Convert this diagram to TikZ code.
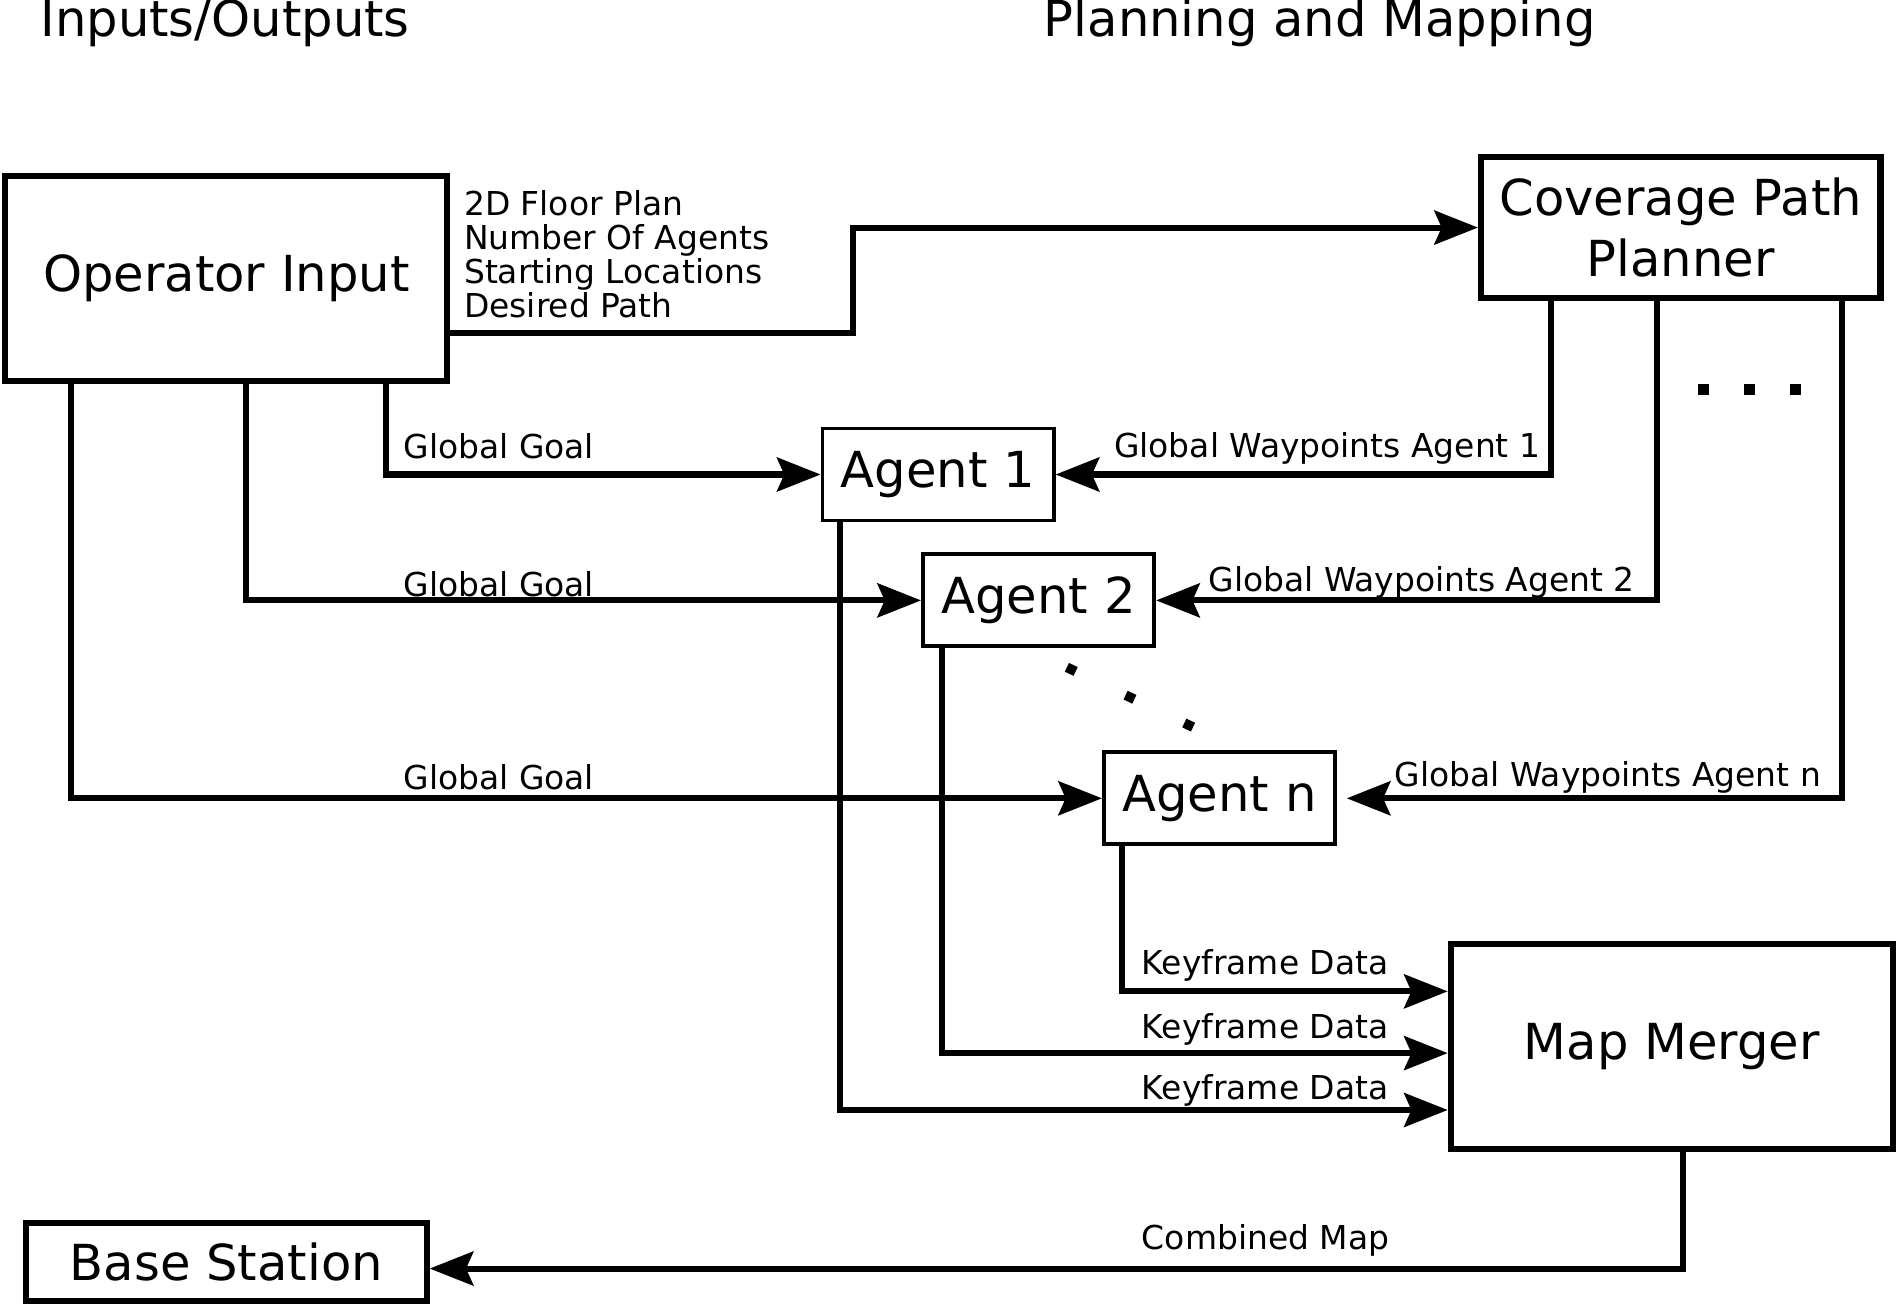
\documentclass[tikz,border=0pt]{standalone}
\usepackage{fontspec}
\setmainfont{DejaVu Sans}
\usetikzlibrary{arrows.meta,positioning}

\begin{document}
\begin{tikzpicture}[x=0.5pt,y=-0.5pt,
  bigbox/.style={draw,line width=2.5pt,inner sep=0pt,align=center,font=\fontsize{20.5}{25.5}\selectfont},
  agentbox/.style={draw,line width=1.6pt,inner sep=0pt,minimum width=95.5pt,minimum height=38pt,font=\fontsize{20.5}{25}\selectfont},
  title/.style={anchor=base west,inner sep=0pt,font=\fontsize{20.5}{25}\selectfont},
  link/.style={line width=2.5pt,-{Stealth[length=18pt,width=14pt,inset=3pt]}},
  lbl/.style={anchor=base west,inner sep=0pt,font=\fontsize{13.6}{14}\selectfont}]

\useasboundingbox (0,0) rectangle (1568,1080);

\node[title] (io) at (33,30) {Inputs/Outputs};
\node[title] (pm) at (862,30) {Planning and Mapping};

\node[bigbox,minimum width=182.5pt,minimum height=84.5pt] (op) at (187,230) {Operator Input};
\node[bigbox,minimum width=165pt,minimum height=58.5pt] (cpp) at (1388.5,188) {Coverage Path\\Planner};
\node[agentbox] (a1) at (775,392) {Agent 1};
\node[agentbox] (a2) at (858,496) {Agent 2};
\node[agentbox] (an) at (1007.5,659.5) {Agent n};
\node[bigbox,minimum width=182.5pt,minimum height=85pt] (mm) at (1381,864.5) {Map Merger};
\node[bigbox,minimum width=165.5pt,minimum height=32pt] (bs) at (187,1042.5) {Base Station};

% operator input to planner and agents
\draw[link] (op.east |- 0,275) -- (705,275) |- (cpp.west);
\draw[link] (op.south -| 319,0) |- (a1.west);
\draw[link] (op.south -| 203,0) |- (a2.west);
\draw[link] (op.south -| 59,0) |- (an.west);

% planner to agents
\draw[link] (cpp.south -| 1281,0) |- (a1.east);
\draw[link] (cpp.south -| 1369,0) |- (a2.east);
\draw[link,shorten >=4pt] (cpp.south -| 1522,0) |- (an.east);

% agents to map merger
\draw[link] (a1.south -| 694,0) |- (mm.west |- 0,917);
\draw[link] (a2.south -| 778,0) |- (mm.west |- 0,870);
\draw[link] (an.south -| 927,0) |- (mm.west |- 0,819);
\draw[link] (mm.south -| 1390,0) |- (bs.east |- 0,1048);

\foreach \t [count=\i] in {2D Floor Plan,Number Of Agents,Starting Locations,Desired Path}
  \node[lbl] (in\i) at (383,150+28*\i) {\t};

\node[lbl] (gg1) at (333,379) {Global Goal};
\node[lbl] (gg2) at (333,493) {Global Goal};
\node[lbl] (ggn) at (333,652) {Global Goal};
\node[lbl] (gw1) at (920,378) {Global Waypoints Agent 1};
\node[lbl] (gw2) at (998,489) {Global Waypoints Agent 2};
\node[lbl] (gwn) at (1152,650) {Global Waypoints Agent n};
\node[lbl] (kf1) at (943,805) {Keyframe Data};
\node[lbl] (kf2) at (943,858) {Keyframe Data};
\node[lbl] (kf3) at (943,908) {Keyframe Data};
\node[lbl] (cm) at (943,1032) {Combined Map};

% dots
\foreach \x in {1407,1445,1483}
  \fill (\x-4.5,317.5) rectangle (\x+4.5,326.5);
\foreach \p in {(885,553),(933.5,576),(982,599)}
  \fill[shift={\p},rotate=-25] (-4,-4) rectangle (4,4);

\end{tikzpicture}
\end{document}
